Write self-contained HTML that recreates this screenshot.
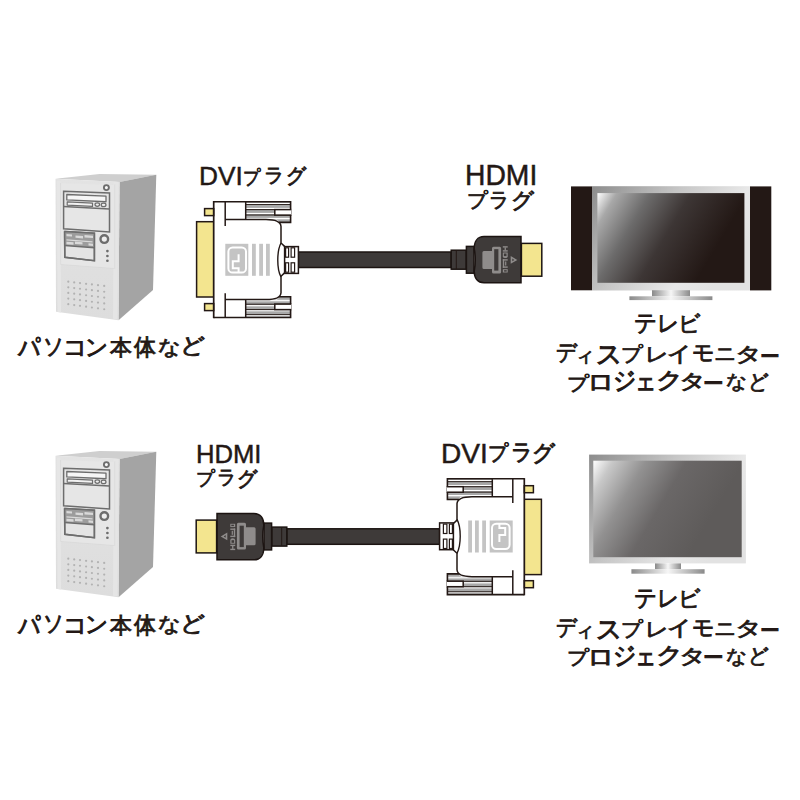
<!DOCTYPE html>
<html lang="ja">
<head>
<meta charset="utf-8">
<style>
html,body{margin:0;padding:0;background:#fff;}
body{width:800px;height:800px;position:relative;overflow:hidden;font-family:"Liberation Sans",sans-serif;color:#231815;}
svg{position:absolute;left:0;top:0;}
.c,.l{position:absolute;white-space:nowrap;line-height:1;}
.c{font-size:22px;font-weight:normal;-webkit-text-stroke:0.9px #231815;}
.l{font-weight:normal;-webkit-text-stroke:0.45px #231815;}
</style>
</head>
<body>
<svg width="800" height="800" viewBox="0 0 800 800">
<defs>
 <linearGradient id="front" x1="0" y1="0" x2="0" y2="1">
  <stop offset="0" stop-color="#e3e3e3"/><stop offset="1" stop-color="#dddddd"/>
 </linearGradient>
 <linearGradient id="scr1" gradientUnits="userSpaceOnUse" x1="597.3" y1="193.1" x2="709" y2="259.7">
  <stop offset="0" stop-color="#ffffff"/><stop offset="0.13" stop-color="#a8a8a8"/><stop offset="0.35" stop-color="#6c6b6b"/><stop offset="0.62" stop-color="#3d3635"/><stop offset="1" stop-color="#231815"/>
 </linearGradient>
 <linearGradient id="scr2" gradientUnits="userSpaceOnUse" x1="593.3" y1="460.7" x2="705" y2="527.3">
  <stop offset="0" stop-color="#ffffff"/><stop offset="0.13" stop-color="#c8c8c8"/><stop offset="0.35" stop-color="#929191"/><stop offset="0.62" stop-color="#6a6767"/><stop offset="1" stop-color="#5e5b5a"/>
 </linearGradient>
 <linearGradient id="frameH" x1="0" y1="0" x2="1" y2="0.5">
  <stop offset="0" stop-color="#8c8c8c"/><stop offset="0.45" stop-color="#c6c6c6"/><stop offset="0.8" stop-color="#e8e8e8"/><stop offset="1" stop-color="#e2e2e2"/>
 </linearGradient>
 <linearGradient id="stand" x1="0" y1="0" x2="1" y2="0">
  <stop offset="0" stop-color="#8a8a8a"/><stop offset="0.5" stop-color="#f6f6f6"/><stop offset="1" stop-color="#8a8a8a"/>
 </linearGradient>
 <g id="tower">
<polygon points="55.5,178.8 99.5,173.9 156.3,174.7 119.5,182" fill="#cfcfcf"/>
<polygon points="119.5,182 156.3,174.7 153,290 118.5,320.3" fill="#a4a4a4"/>
<polygon points="55.5,178.8 119.5,182 118.5,320.3 56,311.7" fill="url(#front)"/>
<polygon points="57,180.5 60.5,181 61,312.5 57.5,312" fill="#e6e6e6"/>
<polygon points="113.5,181.8 118,182 117.5,319.5 113,318.7" fill="#e5e5e5"/>
<polyline points="60.6,183 60.8,264.5 114.6,268.5 114.6,184.5" fill="none" stroke="#d8d8d8" stroke-width="0.7"/>
<polygon points="61.2,183.2 114.2,185 114.2,268 61.2,264" fill="#e6e6e6"/>
<polygon points="63.60,191.25 109.50,193.09 109.50,231.97 63.60,228.75" fill="#e6e6e6" stroke="#6d6d6d" stroke-width="1.5"/>
<line x1="63.6" y1="206.60" x2="109.5" y2="209.01" stroke="#6d6d6d" stroke-width="1.5"/>
<polygon points="66.80,194.50 106.00,196.17 106.00,201.74 66.80,199.90" fill="#f6f6f6" stroke="#6d6d6d" stroke-width="1.3" stroke-linejoin="round"/>
<polygon points="67.20,201.90 92.50,203.13 92.50,206.40 67.20,205.10" fill="#f2f2f2" stroke="#6d6d6d" stroke-width="1.2" stroke-linejoin="round"/>
<ellipse cx="97.3" cy="204.6" rx="2.3" ry="1.75" fill="#eeeeee" stroke="#6d6d6d" stroke-width="1.2"/>
<ellipse cx="103.6" cy="204.9" rx="2.4" ry="1.75" fill="#eeeeee" stroke="#6d6d6d" stroke-width="1.2"/>
<circle cx="106.4" cy="187.6" r="2.5" fill="#f6f6f6" stroke="#6d6d6d" stroke-width="1.9"/>
<polygon points="64.60,231.50 94.40,233.30 94.40,260.75 64.80,257.30" fill="#e4e4e4" stroke="#6d6d6d" stroke-width="1.5"/>
<polygon points="64.6,231.5 94.4,233.3 94.4,247.7 64.8,245.6" fill="#9c9c9c"/>
<polygon points="66.50,234.00 72.00,234.41 72.00,236.62 66.50,236.20" fill="#d9d9d9"/>
<polygon points="75.50,235.40 83.00,235.97 83.00,238.38 75.50,237.80" fill="#d9d9d9"/>
<polygon points="84.50,235.00 93.00,235.64 93.00,238.06 84.50,237.40" fill="#d9d9d9"/>
<polygon points="66.50,239.30 92.50,241.35 92.50,242.57 66.50,240.50" fill="#d9d9d9"/>
<polygon points="66.50,241.80 73.50,242.37 73.50,244.78 66.50,244.20" fill="#d9d9d9"/>
<polygon points="75.00,241.60 82.50,242.20 82.50,244.62 75.00,244.00" fill="#d9d9d9"/>
<polygon points="88.50,243.30 93.00,243.67 93.00,245.88 88.50,245.50" fill="#d9d9d9"/>
<polyline points="64.6,231.5 94.4,233.3 94.4,260.75 64.8,257.3 64.6,231.5" fill="none" stroke="#6d6d6d" stroke-width="1.5"/>
<line x1="64.7" y1="245.6" x2="94.4" y2="247.7" stroke="#6d6d6d" stroke-width="1.5"/>
<circle cx="104.3" cy="239.1" r="3.8" fill="#eeeeee" stroke="#6d6d6d" stroke-width="2.4"/>
<circle cx="107.4" cy="251.1" r="1.35" fill="#6d6d6d"/>
<circle cx="107.4" cy="256" r="1.35" fill="#6d6d6d"/>
<circle cx="107.4" cy="260.75" r="1.35" fill="#6d6d6d"/>
<circle cx="68.3" cy="281.70" r="1.1" fill="#b2b2b2"/>
<circle cx="74.2" cy="282.39" r="1.1" fill="#b2b2b2"/>
<circle cx="80" cy="283.07" r="1.1" fill="#b2b2b2"/>
<circle cx="86.1" cy="283.78" r="1.1" fill="#b2b2b2"/>
<circle cx="91.9" cy="284.46" r="1.1" fill="#b2b2b2"/>
<circle cx="98" cy="285.17" r="1.1" fill="#b2b2b2"/>
<circle cx="104.2" cy="285.90" r="1.1" fill="#b2b2b2"/>
<circle cx="68.3" cy="287.32" r="1.1" fill="#b2b2b2"/>
<circle cx="74.2" cy="288.05" r="1.1" fill="#b2b2b2"/>
<circle cx="80" cy="288.76" r="1.1" fill="#b2b2b2"/>
<circle cx="86.1" cy="289.51" r="1.1" fill="#b2b2b2"/>
<circle cx="91.9" cy="290.22" r="1.1" fill="#b2b2b2"/>
<circle cx="98" cy="290.97" r="1.1" fill="#b2b2b2"/>
<circle cx="104.2" cy="291.73" r="1.1" fill="#b2b2b2"/>
<circle cx="68.3" cy="292.95" r="1.1" fill="#b2b2b2"/>
<circle cx="74.2" cy="293.71" r="1.1" fill="#b2b2b2"/>
<circle cx="80" cy="294.45" r="1.1" fill="#b2b2b2"/>
<circle cx="86.1" cy="295.24" r="1.1" fill="#b2b2b2"/>
<circle cx="91.9" cy="295.98" r="1.1" fill="#b2b2b2"/>
<circle cx="98" cy="296.77" r="1.1" fill="#b2b2b2"/>
<circle cx="104.2" cy="297.56" r="1.1" fill="#b2b2b2"/>
<circle cx="68.3" cy="298.57" r="1.1" fill="#b2b2b2"/>
<circle cx="74.2" cy="299.37" r="1.1" fill="#b2b2b2"/>
<circle cx="80" cy="300.15" r="1.1" fill="#b2b2b2"/>
<circle cx="86.1" cy="300.96" r="1.1" fill="#b2b2b2"/>
<circle cx="91.9" cy="301.74" r="1.1" fill="#b2b2b2"/>
<circle cx="98" cy="302.56" r="1.1" fill="#b2b2b2"/>
<circle cx="104.2" cy="303.39" r="1.1" fill="#b2b2b2"/>
<circle cx="68.3" cy="304.20" r="1.1" fill="#b2b2b2"/>
<circle cx="74.2" cy="305.03" r="1.1" fill="#b2b2b2"/>
<circle cx="80" cy="305.84" r="1.1" fill="#b2b2b2"/>
<circle cx="86.1" cy="306.69" r="1.1" fill="#b2b2b2"/>
<circle cx="91.9" cy="307.50" r="1.1" fill="#b2b2b2"/>
<circle cx="98" cy="308.36" r="1.1" fill="#b2b2b2"/>
<circle cx="104.2" cy="309.23" r="1.1" fill="#b2b2b2"/>
</g>
 <g id="dviTop">
  <rect x="204.6" y="208.6" width="9.1" height="7" fill="#f3e58f" stroke="#231815" stroke-width="1.5"/>
  <rect x="246" y="202" width="44.6" height="17.5" fill="#a8a8a8"/>
  <path d="M277,219.5 H290.6 V222.4 H280 Z" fill="#a8a8a8"/>
  <g fill="#fff">
   <rect x="246" y="202.9" width="44.6" height="1.1"/>
   <rect x="246" y="207.9" width="44.6" height="1.2"/>
   <rect x="246" y="212.9" width="44.6" height="1.2"/>
   <rect x="246" y="217.9" width="44.6" height="1.2"/>
  </g>
  <g fill="#231815">
   <rect x="246" y="204.1" width="44.6" height="0.9"/>
   <rect x="246" y="209.1" width="44.6" height="1"/>
   <rect x="246" y="214.5" width="44.6" height="1"/>
  </g>
  <rect x="274.8" y="209.6" width="17" height="5.5" fill="#fff" stroke="#231815" stroke-width="1.5"/>
  <rect x="291.4" y="208" width="3" height="9" fill="#fff"/>
  <path d="M213.7,201.7 H290.6 V209.6 M290.6,215.1 V222.4 H279" fill="none" stroke="#231815" stroke-width="1.6"/>
  <path d="M225.2,202 V226" stroke="#231815" stroke-width="1.5"/>
  <path d="M245.7,202 V219.5" stroke="#231815" stroke-width="1.5"/>
  <path d="M225.2,219.6 H266 C275,219.6 280.6,221 281,226.5 V243 L284.8,246.6" fill="none" stroke="#231815" stroke-width="1.5"/>
 </g>
 <g id="dvi">
  <rect x="196.6" y="221.7" width="17.1" height="75.3" fill="#f3e58f" stroke="#231815" stroke-width="1.5"/>
  <path d="M213.7,201.7 H281 V317.5 H213.7 Z" fill="#fff"/>
  <use href="#dviTop"/>
  <use href="#dviTop" transform="translate(0,519.2) scale(1,-1)"/>
  <path d="M213.7,201 V318.2" stroke="#231815" stroke-width="1.7"/>
  <path d="M281,243 C276.8,251 276.6,269 281,277" fill="none" stroke="#231815" stroke-width="1.4"/>
  <!-- logo -->
  <rect x="225.3" y="243.8" width="23" height="32" fill="#c4c4c4"/>
  <rect x="228.4" y="247.4" width="17.6" height="25.2" rx="4.2" fill="none" stroke="#fff" stroke-width="2"/>
  <path d="M238.6,273 V268.3 H232.8 V261.2 H238.6 V254.2" fill="none" stroke="#fff" stroke-width="2"/>
  <rect x="252" y="243.8" width="3.8" height="32" fill="#c4c4c4"/>
  <rect x="259.2" y="243.8" width="3.8" height="32" fill="#c4c4c4"/>
  <rect x="266" y="243.8" width="3.8" height="32" fill="#c4c4c4"/>
  <!-- strain relief -->
  <rect x="284.6" y="246.6" width="13.8" height="26.8" fill="#fff" stroke="#231815" stroke-width="1.5"/>
  <g fill="#fff" stroke="#231815" stroke-width="1.2">
   <rect x="285.6" y="247.8" width="3" height="9.4"/>
   <rect x="291.1" y="247.8" width="3.5" height="9.4"/>
   <rect x="285.6" y="262.8" width="3" height="9.4"/>
   <rect x="291.1" y="262.8" width="3.5" height="9.4"/>
  </g>
 </g>
 <g id="hdmi">
  <rect x="451.2" y="250.2" width="15" height="19" fill="#3e3a39" stroke="#1c1412" stroke-width="1.5"/>
  <path d="M456.3,250.5 V269" stroke="#231815" stroke-width="1"/>
  <rect x="466.4" y="246.4" width="7.6" height="26.8" fill="#3e3a39" stroke="#1c1412" stroke-width="1.5"/>
  <path d="M521,236.5 H484 C477.5,236.5 474.2,241.5 474.2,248.5 C475.4,255 475.4,265 474.2,271 C474.2,278 477.5,282.8 484,282.8 H521 Z" fill="#3e3a39" stroke="#1c1412" stroke-width="1.5"/>
  <rect x="521.4" y="243.4" width="20.4" height="32.8" fill="#f3e58f" stroke="#1c1412" stroke-width="1.5"/>
  <path d="M493.5,246.7 H499.6 Q501.1,246.7 501.1,248.2 V272.1 Q501.1,273.6 499.6,273.6 H493.5 Q492,273.6 492,272.1 V269 H483.9 Q482.4,269 482.4,267.5 V252.5 Q482.4,251 483.9,251 H492 V248.2 Q492,246.7 493.5,246.7 Z" fill="#8f8c8b"/>
  <rect x="494.2" y="249.2" width="4.2" height="21.4" fill="#3e3a39"/>
  <g fill="#8f8c8b">
   <rect x="502.8" y="246.2" width="4.9" height="1.4"/><rect x="502.8" y="250.2" width="4.9" height="1.4"/><rect x="504.6" y="247.4" width="1.3" height="3"/>
   <path d="M502.8,252.6 H507.7 V256.4 Q507.7,258 505.3,258 Q502.8,258 502.8,256.4 Z"/>
   <rect x="502.8" y="259.2" width="4.9" height="1.4"/><rect x="502.8" y="266.4" width="4.9" height="1.4"/><rect x="502.8" y="259.2" width="1.4" height="8.6"/><rect x="505.1" y="261.5" width="1.2" height="4"/>
   <rect x="502.8" y="269.2" width="4.9" height="3.3"/>
   <path d="M510.7,256 L517.3,259.9 L510.7,263.7 Z"/>
  </g>
  <rect x="503.9" y="253.5" width="2.6" height="2.6" fill="#3e3a39"/>
  <rect x="504.1" y="270.2" width="2.6" height="1.4" fill="#3e3a39"/>
  <path d="M512.3,258.6 L514.3,259.9 L512.3,261.2 Z" fill="#3e3a39"/>
 </g>
 <g id="cable">
  <rect x="298.4" y="252" width="152.8" height="15.5" fill="#3e3a39" stroke="#1c1412" stroke-width="1.5"/>
 </g>
</defs>

<!-- row 1 -->
<use href="#tower"/>
<use href="#cable"/>
<use href="#dvi"/>
<use href="#hdmi"/>
<!-- TV1 -->
<rect x="571" y="186.4" width="21" height="103.9" fill="#231815"/>
<rect x="750" y="186.4" width="21.3" height="104" fill="#231815"/>
<rect x="592" y="186.2" width="158" height="104.3" fill="url(#frameH)"/>
<rect x="597.4" y="193.1" width="147" height="89.7" fill="url(#scr1)"/>
<rect x="652" y="290.2" width="38" height="6.1" fill="url(#stand)"/>
<rect x="629.4" y="296.3" width="83" height="3.8" fill="url(#stand)"/>

<!-- row 2 -->
<use href="#tower" transform="translate(0,277)"/>
<g transform="matrix(-1,0,0,-1,738,796.3)">
 <use href="#cable"/>
 <use href="#dvi"/>
 <use href="#hdmi"/>
</g>
<!-- TV2 -->
<rect x="589.1" y="454.6" width="156.8" height="108.8" fill="url(#frameH)"/>
<rect x="593.3" y="460.7" width="148.4" height="96.5" fill="url(#scr2)"/>
<rect x="655" y="563.4" width="26" height="5.8" fill="url(#stand)"/>
<rect x="631.4" y="569.2" width="73.2" height="4.5" fill="url(#stand)"/>
</svg>

<div class="c" style="left:17.60px;top:335.40px;transform-origin:0px 2px;transform:scale(0.9913,1.1625)">パ</div>
<div class="c" style="left:42.60px;top:335.60px;transform-origin:2px 3px;transform:scale(0.9176,1.0333)">ソ</div>
<div class="c" style="left:63.20px;top:336.40px;transform-origin:3px 4px;transform:scale(1.0800,1.0400)">コ</div>
<div class="c" style="left:85.20px;top:335.60px;transform-origin:2px 3px;transform:scale(1.0421,1.0588)">ン</div>
<div class="c" style="left:110.40px;top:337.40px;transform-origin:0px -1px;transform:scale(0.9932,0.9932)">本</div>
<div class="c" style="left:134.10px;top:336.40px;transform-origin:0px 0px;transform:scale(0.9955,1.0405)">体</div>
<div class="c" style="left:157.50px;top:336.60px;transform-origin:1px 1px;transform:scale(1.0300,0.9238)">な</div>
<div class="c" style="left:179.90px;top:335.40px;transform-origin:3px 1px;transform:scale(1.1158,1.0000)">ど</div>
<div class="c" style="left:634.20px;top:312.20px;transform-origin:1px 3px;transform:scale(1.0200,1.0833)">テ</div>
<div class="c" style="left:657.40px;top:313.20px;transform-origin:3px 2px;transform:scale(0.9765,1.0278)">レ</div>
<div class="c" style="left:677.80px;top:313.30px;transform-origin:4px 0px;transform:scale(1.0211,1.0200)">ビ</div>
<div class="c" style="left:555.50px;top:341.75px;transform-origin:1px 2px;transform:scale(0.9205,1.0263)">デ</div>
<div class="c" style="left:575.00px;top:345.75px;transform-origin:4px 4px;transform:scale(0.9107,0.8382)">ィ</div>
<div class="c" style="left:596.00px;top:342.00px;transform-origin:1px 4px;transform:scale(1.1842,1.2000)">ス</div>
<div class="c" style="left:620.75px;top:344.75px;transform-origin:1px -1px;transform:scale(0.9886,0.9205)">プ</div>
<div class="c" style="left:645.00px;top:344.00px;transform-origin:3px 2px;transform:scale(1.0588,0.9167)">レ</div>
<div class="c" style="left:667.00px;top:343.50px;transform-origin:1px 1px;transform:scale(1.0833,0.9375)">イ</div>
<div class="c" style="left:691.75px;top:342.25px;transform-origin:1px 3px;transform:scale(1.0125,1.0147)">モ</div>
<div class="c" style="left:714.25px;top:344.25px;transform-origin:1px 4px;transform:scale(0.9868,0.8500)">ニ</div>
<div class="c" style="left:735.00px;top:343.50px;transform-origin:2px 1px;transform:scale(1.2353,0.9286)">タ</div>
<div class="c" style="left:760.00px;top:345.50px;transform-origin:1px 9.5px;transform:scale(0.9000,1.0000)">ー</div>
<div class="c" style="left:566.50px;top:373.50px;transform-origin:1px -1px;transform:scale(1.0000,0.8750)">プ</div>
<div class="c" style="left:588.25px;top:371.25px;transform-origin:4px 4px;transform:scale(1.2321,1.0500)">ロ</div>
<div class="c" style="left:613.00px;top:369.10px;transform-origin:2px 2px;transform:scale(1.0474,1.1472)">ジ</div>
<div class="c" style="left:635.30px;top:370.00px;transform-origin:3px 8px;transform:scale(0.9500,1.1818)">ェ</div>
<div class="c" style="left:656.00px;top:370.25px;transform-origin:2px 2px;transform:scale(1.1912,1.0263)">ク</div>
<div class="c" style="left:678.50px;top:371.25px;transform-origin:2px 1px;transform:scale(1.2353,0.9286)">タ</div>
<div class="c" style="left:702.75px;top:372.50px;transform-origin:1px 9.5px;transform:scale(0.9375,1.0000)">ー</div>
<div class="c" style="left:726.00px;top:372.00px;transform-origin:1px 1px;transform:scale(0.9375,0.8571)">な</div>
<div class="c" style="left:748.00px;top:370.50px;transform-origin:3px 1px;transform:scale(0.9474,0.9750)">ど</div>
<div class="c" style="left:243.00px;top:167.50px;transform-origin:1px -1px;transform:scale(0.8000,0.8818)">プ</div>
<div class="c" style="left:264.20px;top:166.30px;transform-origin:2px 2px;transform:scale(0.9000,0.9000)">ラ</div>
<div class="c" style="left:286.00px;top:166.00px;transform-origin:2px 0px;transform:scale(0.9238,0.9714)">グ</div>
<div class="c" style="left:466.80px;top:191.30px;transform-origin:1px -1px;transform:scale(0.9273,0.9045)">プ</div>
<div class="c" style="left:489.10px;top:189.20px;transform-origin:2px 2px;transform:scale(0.9176,0.9737)">ラ</div>
<div class="c" style="left:511.40px;top:189.80px;transform-origin:2px 0px;transform:scale(1.0167,0.9952)">グ</div>
<div class="c" style="left:196.40px;top:470.10px;transform-origin:1px -1px;transform:scale(0.8318,0.8500)">プ</div>
<div class="c" style="left:216.70px;top:468.40px;transform-origin:2px 2px;transform:scale(0.8471,0.8947)">ラ</div>
<div class="c" style="left:236.60px;top:468.70px;transform-origin:2px 0px;transform:scale(0.9143,0.9524)">グ</div>
<div class="c" style="left:488.20px;top:443.20px;transform-origin:1px -1px;transform:scale(0.9045,0.9455)">プ</div>
<div class="c" style="left:510.80px;top:441.50px;transform-origin:2px 2px;transform:scale(0.9529,1.0263)">ラ</div>
<div class="c" style="left:532.10px;top:442.20px;transform-origin:2px 0px;transform:scale(1.0143,1.0333)">グ</div>
<div class="c" style="left:17.60px;top:612.60px;transform-origin:0px 2px;transform:scale(0.9913,1.1625)">パ</div>
<div class="c" style="left:42.60px;top:612.80px;transform-origin:2px 3px;transform:scale(0.9176,1.0333)">ソ</div>
<div class="c" style="left:63.20px;top:613.60px;transform-origin:3px 4px;transform:scale(1.0800,1.0400)">コ</div>
<div class="c" style="left:85.20px;top:612.80px;transform-origin:2px 3px;transform:scale(1.0421,1.0588)">ン</div>
<div class="c" style="left:110.40px;top:614.60px;transform-origin:0px -1px;transform:scale(0.9932,0.9932)">本</div>
<div class="c" style="left:134.10px;top:613.60px;transform-origin:0px 0px;transform:scale(0.9955,1.0405)">体</div>
<div class="c" style="left:157.50px;top:613.80px;transform-origin:1px 1px;transform:scale(1.0300,0.9238)">な</div>
<div class="c" style="left:179.90px;top:612.60px;transform-origin:3px 1px;transform:scale(1.1158,1.0000)">ど</div>
<div class="c" style="left:634.20px;top:587.00px;transform-origin:1px 3px;transform:scale(1.0200,1.0833)">テ</div>
<div class="c" style="left:657.40px;top:588.00px;transform-origin:3px 2px;transform:scale(0.9765,1.0278)">レ</div>
<div class="c" style="left:677.80px;top:588.10px;transform-origin:4px 0px;transform:scale(1.0211,1.0200)">ビ</div>
<div class="c" style="left:555.50px;top:616.55px;transform-origin:1px 2px;transform:scale(0.9205,1.0263)">デ</div>
<div class="c" style="left:575.00px;top:620.55px;transform-origin:4px 4px;transform:scale(0.9107,0.8382)">ィ</div>
<div class="c" style="left:596.00px;top:616.80px;transform-origin:1px 4px;transform:scale(1.1842,1.2000)">ス</div>
<div class="c" style="left:620.75px;top:619.55px;transform-origin:1px -1px;transform:scale(0.9886,0.9205)">プ</div>
<div class="c" style="left:645.00px;top:618.80px;transform-origin:3px 2px;transform:scale(1.0588,0.9167)">レ</div>
<div class="c" style="left:667.00px;top:618.30px;transform-origin:1px 1px;transform:scale(1.0833,0.9375)">イ</div>
<div class="c" style="left:691.75px;top:617.05px;transform-origin:1px 3px;transform:scale(1.0125,1.0147)">モ</div>
<div class="c" style="left:714.25px;top:619.05px;transform-origin:1px 4px;transform:scale(0.9868,0.8500)">ニ</div>
<div class="c" style="left:735.00px;top:618.30px;transform-origin:2px 1px;transform:scale(1.2353,0.9286)">タ</div>
<div class="c" style="left:760.00px;top:620.30px;transform-origin:1px 9.5px;transform:scale(0.9000,1.0000)">ー</div>
<div class="c" style="left:566.50px;top:648.30px;transform-origin:1px -1px;transform:scale(1.0000,0.8750)">プ</div>
<div class="c" style="left:588.25px;top:646.05px;transform-origin:4px 4px;transform:scale(1.2321,1.0500)">ロ</div>
<div class="c" style="left:613.00px;top:643.90px;transform-origin:2px 2px;transform:scale(1.0474,1.1472)">ジ</div>
<div class="c" style="left:635.30px;top:644.80px;transform-origin:3px 8px;transform:scale(0.9500,1.1818)">ェ</div>
<div class="c" style="left:656.00px;top:645.05px;transform-origin:2px 2px;transform:scale(1.1912,1.0263)">ク</div>
<div class="c" style="left:678.50px;top:646.05px;transform-origin:2px 1px;transform:scale(1.2353,0.9286)">タ</div>
<div class="c" style="left:702.75px;top:647.30px;transform-origin:1px 9.5px;transform:scale(0.9375,1.0000)">ー</div>
<div class="c" style="left:726.00px;top:646.80px;transform-origin:1px 1px;transform:scale(0.9375,0.8571)">な</div>
<div class="c" style="left:748.00px;top:645.30px;transform-origin:3px 1px;transform:scale(0.9474,0.9750)">ど</div>
<div class="l" style="left:198.60px;top:162.75px;font-size:26px;transform-origin:2px 4px;transform:scale(1.0103,1.0194)">DVI</div>
<div class="l" style="left:464.75px;top:161.00px;font-size:28px;transform-origin:2px 4px;transform:scale(1.0112,1.0658)">HDMI</div>
<div class="l" style="left:196.00px;top:441.50px;font-size:25px;transform-origin:2px 3px;transform:scale(1.0250,1.0000)">HDMI</div>
<div class="l" style="left:440.90px;top:439.90px;font-size:27px;transform-origin:2px 3px;transform:scale(1.0415,1.0447)">DVI</div>
</body>
</html>
